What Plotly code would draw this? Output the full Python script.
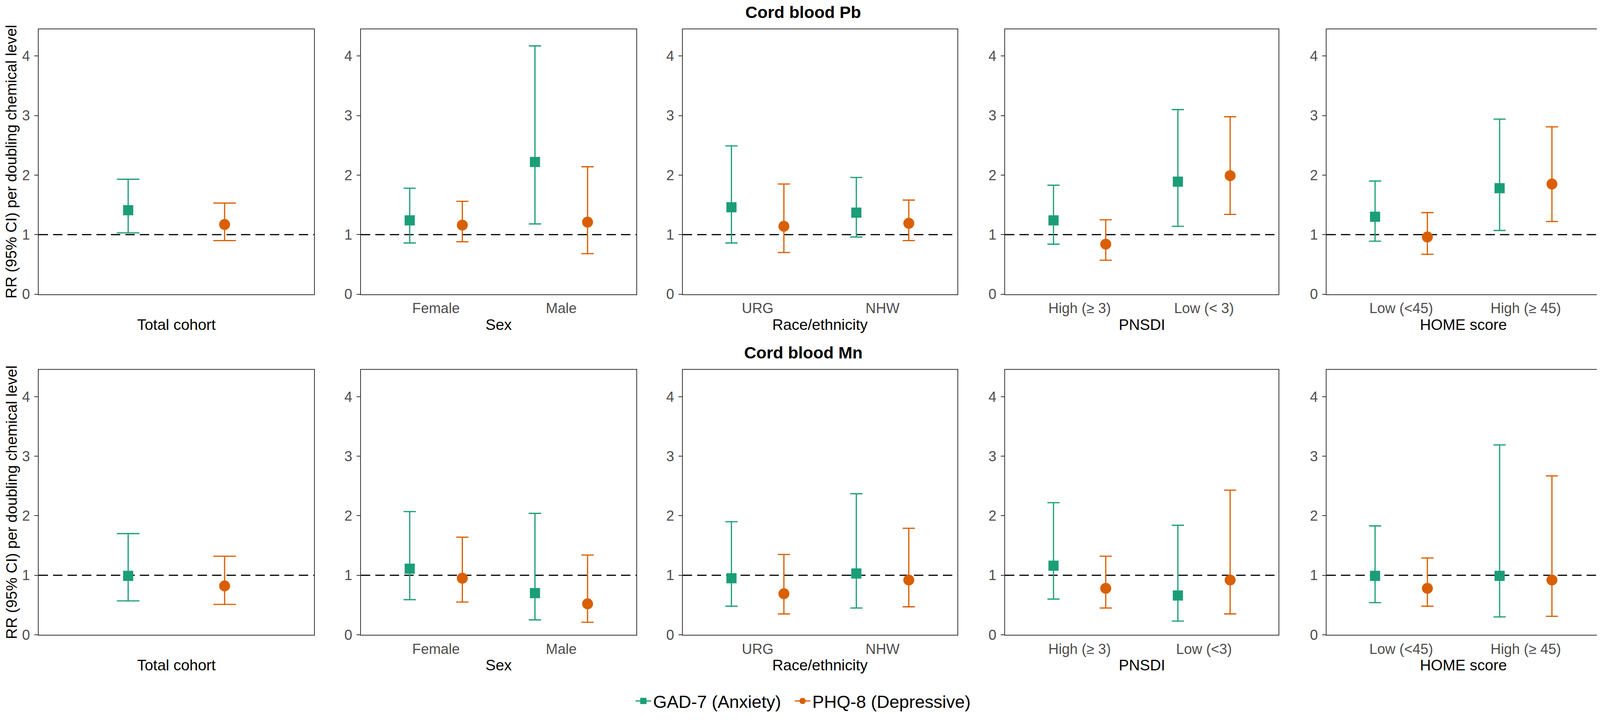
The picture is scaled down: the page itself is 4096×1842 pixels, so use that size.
import plotly.graph_objects as go

# ---------------- data ----------------
group_titles = ["Total cohort", "Sex", "Race/ethnicity", "PNSDI", "HOME score"]
row_titles = ["Cord blood Pb", "Cord blood Mn"]

pb_tick_labels = [[""], ["Female", "Male"], ["URG", "NHW"],
                  ["High (\u2265 3)", "Low (< 3)"], ["Low (<45)", "High (\u2265 45)"]]
mn_tick_labels = [[""], ["Female", "Male"], ["URG", "NHW"],
                  ["High (\u2265 3)", "Low (<3)"], ["Low (<45)", "High (\u2265 45)"]]

# Cord blood Pb
pb_gad_rr = [[1.41], [1.24, 2.22], [1.46, 1.37], [1.24, 1.89], [1.30, 1.78]]
pb_gad_lo = [[1.03], [0.86, 1.18], [0.86, 0.96], [0.84, 1.14], [0.89, 1.07]]
pb_gad_hi = [[1.93], [1.78, 4.17], [2.49, 1.96], [1.83, 3.10], [1.90, 2.94]]
pb_phq_rr = [[1.17], [1.16, 1.21], [1.14, 1.19], [0.84, 1.99], [0.96, 1.85]]
pb_phq_lo = [[0.90], [0.88, 0.68], [0.70, 0.90], [0.57, 1.34], [0.67, 1.22]]
pb_phq_hi = [[1.53], [1.56, 2.14], [1.85, 1.58], [1.25, 2.98], [1.37, 2.81]]

# Cord blood Mn
mn_gad_rr = [[0.99], [1.11, 0.70], [0.95, 1.03], [1.16, 0.66], [0.99, 0.99]]
mn_gad_lo = [[0.57], [0.59, 0.25], [0.48, 0.45], [0.60, 0.23], [0.54, 0.30]]
mn_gad_hi = [[1.70], [2.07, 2.04], [1.90, 2.37], [2.22, 1.84], [1.83, 3.19]]
mn_phq_rr = [[0.82], [0.95, 0.52], [0.69, 0.92], [0.78, 0.92], [0.78, 0.92]]
mn_phq_lo = [[0.51], [0.55, 0.21], [0.35, 0.47], [0.45, 0.35], [0.48, 0.31]]
mn_phq_hi = [[1.32], [1.64, 1.34], [1.35, 1.79], [1.32, 2.43], [1.29, 2.67]]

y_ticks = [0, 1, 2, 3, 4]
series_names = ["GAD-7 (Anxiety)", "PHQ-8 (Depressive)"]
y_title = "RR (95% CI) per doubling chemical level"

# ---------------- style ----------------
W, H = 4096, 1842
FONT = "Liberation Sans, Arial, Helvetica, sans-serif"
GREEN = "#1B9E77"
ORANGE = "#D95F02"
AXCOL = "#333333"
TICKCOL = "#4D4D4D"
TICK_FS = 36.5
TITLE_FS = 38.9
HEAD_FS = 43
LEG_FS = 45
DODGE = 0.21
SQ_SIZE = 26
CI_SIZE = 28
EB_W = 3.1

x_dom = [(0.02219, 0.19439), (0.22359, 0.39580), (0.42476, 0.59648),
         (0.62617, 0.79719), (0.82710, 0.99836)]
y_dom = [(0.59110, 0.96336), (0.11260, 0.48464)]
xtitle_y = [0.54853, 0.0700]
head_y = [1.0, 0.5090]

rows = [
    (pb_tick_labels, pb_gad_rr, pb_gad_lo, pb_gad_hi, pb_phq_rr, pb_phq_lo, pb_phq_hi),
    (mn_tick_labels, mn_gad_rr, mn_gad_lo, mn_gad_hi, mn_phq_rr, mn_phq_lo, mn_phq_hi),
]

fig = go.Figure()
annotations = []
shapes = []
layout_axes = {}

for r, (labels, g_rr, g_lo, g_hi, p_rr, p_lo, p_hi) in enumerate(rows):
    for p in range(5):
        idx = r * 5 + p + 1
        xa = "x" if idx == 1 else f"x{idx}"
        ya = "y" if idx == 1 else f"y{idx}"
        n = len(labels[p])
        cats = list(range(1, n + 1))
        pw = (x_dom[p][1] - x_dom[p][0]) * W
        cap = 0.049 * pw / (n + 0.2)

        for k, (rr, lo, hi, col, sym, size) in enumerate([
            (g_rr[p], g_lo[p], g_hi[p], GREEN, "square", SQ_SIZE),
            (p_rr[p], p_lo[p], p_hi[p], ORANGE, "circle", CI_SIZE),
        ]):
            off = -DODGE if k == 0 else DODGE
            fig.add_trace(go.Scatter(
                x=[c + off for c in cats], y=rr, mode="markers",
                marker=dict(symbol=sym, size=size, color=col, line=dict(width=0)),
                error_y=dict(type="data", symmetric=False,
                             array=[h - v for h, v in zip(hi, rr)],
                             arrayminus=[v - l for v, l in zip(rr, lo)],
                             color=col, thickness=EB_W, width=cap),
                xaxis=xa, yaxis=ya, showlegend=False, hoverinfo="skip"))

        xkey = "xaxis" if idx == 1 else f"xaxis{idx}"
        ykey = "yaxis" if idx == 1 else f"yaxis{idx}"
        layout_axes[xkey] = dict(
            domain=list(x_dom[p]), anchor=ya, range=[0.4, n + 0.6],
            tickvals=cats, ticktext=labels[p], showticklabels=(p != 0),
            ticks="", showline=True, mirror=True, linecolor=AXCOL, linewidth=1.6,
            showgrid=False, zeroline=False,
            tickfont=dict(family=FONT, size=TICK_FS, color=TICKCOL),
            ticklabelstandoff=3, fixedrange=True)
        layout_axes[ykey] = dict(
            domain=list(y_dom[r]), anchor=xa, range=[0, 4.45],
            tickvals=y_ticks, ticks="outside", ticklen=9, tickwidth=1.6,
            tickcolor=AXCOL, showline=True, mirror=True, linecolor=AXCOL,
            linewidth=1.6, showgrid=False, zeroline=False,
            tickfont=dict(family=FONT, size=TICK_FS, color=TICKCOL),
            ticklabelstandoff=4, fixedrange=True)

        shapes.append(dict(type="line", xref=f"{xa} domain", yref=ya,
                           x0=0, x1=1, y0=1, y1=1,
                           line=dict(color="black", width=3.0, dash="24px,13px"),
                           layer="below"))
        annotations.append(dict(
            text=group_titles[p], xref="paper", yref="paper",
            x=(x_dom[p][0] + x_dom[p][1]) / 2, y=xtitle_y[r],
            xanchor="center", yanchor="middle", showarrow=False,
            font=dict(family=FONT, size=TITLE_FS, color="black")))

    annotations.append(dict(
        text=f"<b>{row_titles[r]}</b>", xref="paper", yref="paper",
        x=0.5, y=head_y[r], xanchor="center",
        yanchor="top" if r == 0 else "middle", borderpad=0, showarrow=False,
        yshift=2 if r == 0 else 0,
        font=dict(family=FONT, size=HEAD_FS, color="black")))
    annotations.append(dict(
        text=y_title, xref="paper", yref="paper", textangle=-90,
        x=21 / W, y=(y_dom[r][0] + y_dom[r][1]) / 2,
        xanchor="center", yanchor="middle", showarrow=False,
        font=dict(family=FONT, size=TITLE_FS, color="black")))

# legend-only traces
legend_pad = ["\u00a0\u00a0", ""]
for name, pad, col, sym, size in [(series_names[0], legend_pad[0], GREEN, "square", SQ_SIZE),
                                  (series_names[1], legend_pad[1], ORANGE, "circle", CI_SIZE)]:
    fig.add_trace(go.Scatter(
        x=[None], y=[None], mode="lines+markers", name=name + pad,
        marker=dict(symbol=sym, size=size, color=col),
        line=dict(color=col, width=EB_W), xaxis="x", yaxis="y",
        showlegend=True, hoverinfo="skip"))

fig.update_layout(
    width=W, height=H, autosize=False,
    margin=dict(l=0, r=0, t=0, b=0, pad=0),
    paper_bgcolor="white", plot_bgcolor="white",
    font=dict(family=FONT, color="black"),
    annotations=annotations, shapes=shapes,
    showlegend=True,
    legend=dict(orientation="h", x=0.5, xanchor="center", y=0.0195,
                yanchor="middle", font=dict(family=FONT, size=LEG_FS),
                bgcolor="rgba(0,0,0,0)", itemwidth=40),
    **layout_axes)

fig.write_html("out.html")
